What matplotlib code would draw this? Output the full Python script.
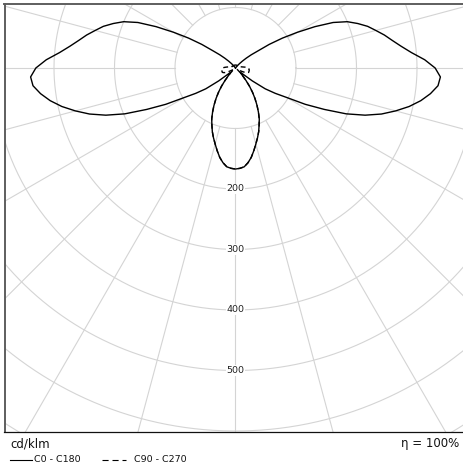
import matplotlib.pyplot as plt
from matplotlib.lines import Line2D
import numpy as np

# polar angle gamma (deg from nadir) and intensities in cd/klm
gamma = np.arange(0, 180.1, 2.5)

# C0 - C180 plane (symmetric, C180 mirrors C0)
i_c0 = [167, 166, 164, 158, 150, 140, 130, 121, 112, 102, 93, 82, 71, 60, 49, 38,
        27, 18, 12, 11, 14, 35, 60, 78, 97, 130, 162, 198, 228, 253, 274, 294,
        311, 325, 336, 339, 330, 313, 292, 276, 263, 252, 240, 229, 215, 200, 178, 148,
        118, 92, 68, 46, 34, 24, 16, 10, 6, 3, 1, 0, 0, 0, 0, 0,
        0, 0, 0, 0, 0, 0, 0, 0, 0]

# C90 - C270 plane
i_c90 = [167, 166, 164, 158, 150, 140, 130, 121, 112, 102, 93, 82, 71, 60, 49, 38,
         27, 18, 12, 6, 4, 3, 4, 6, 9, 13, 17, 20, 22, 23, 23, 23,
         23, 23, 22, 22, 21, 19, 16, 13, 11, 9, 8, 7, 7, 6, 6, 6,
         6, 6, 5, 5, 5, 5, 5, 5, 5, 5, 5, 5, 5, 5, 5, 5,
         5, 5, 5, 5, 5, 5, 5, 5, 5]

ring_values = [100, 200, 300, 400, 500, 600, 700]
ring_labels = [200, 300, 400, 500]
unit_label = 'cd/klm'
efficiency = '\u03b7 = 100%'
legend_names = ['C0 - C180', 'C90 - C270']

W, H = 463, 466
fig = plt.figure(figsize=(W / 100, H / 100), dpi=100)
ax = fig.add_axes([4.5 / W, 34 / H, (W - 4.5) / W, (432 - 4.5) / H])

scale = 0.605  # px per cd/klm
cx, cy = 235.5, 68
ax.set_xlim(-(cx - 4.5) / scale, (W - cx) / scale)
ax.set_ylim(-(432 - cy) / scale, (cy - 4.5) / scale)

# grid: rings and spokes (spokes start at the first ring)
grid_col = '#d4d4d4'
t = np.linspace(0, 2 * np.pi, 721)
for r in ring_values:
    ax.plot(r * np.cos(t), r * np.sin(t), color=grid_col, lw=0.8, zorder=1)
for a in np.arange(0, 360, 15):
    a = np.radians(a)
    ax.plot([100 * np.cos(a), 1200 * np.cos(a)], [100 * np.sin(a), 1200 * np.sin(a)],
            color=grid_col, lw=0.8, zorder=1)

for r in ring_labels:
    ax.text(0, -r, str(r), ha='center', va='center', fontsize=6.8, color='#222222',
            bbox=dict(facecolor='white', edgecolor='none', pad=0.6), zorder=2)


def closed_curve(vals):
    g = np.radians(gamma)
    v = np.array(vals, dtype=float)
    # C180 side (left) from 180 down to 0, then C0 side (right) 0 up to 180
    x = np.concatenate([-(v * np.sin(g))[::-1], (v * np.sin(g))[1:]])
    y = np.concatenate([-(v * np.cos(g))[::-1], -(v * np.cos(g))[1:]])
    return x, y


x0, y0 = closed_curve(i_c0)
ax.plot(x0, y0, color='black', lw=1.0, zorder=3)
x9, y9 = closed_curve(i_c90)
ax.plot(x9, y9, color='black', lw=1.0, dashes=(3.5, 2.5), zorder=4)

ax.set_xticks([])
ax.set_yticks([])
for s in ['left', 'top']:
    ax.spines[s].set_color('#5e5e5e')
    ax.spines[s].set_linewidth(1.4)
ax.spines['bottom'].set_color('#111111')
ax.spines['bottom'].set_linewidth(0.9)
ax.spines['right'].set_visible(False)

# footer texts and legend
fig.text(10 / W, 1 - 444 / H, unit_label, fontsize=8.5, ha='left', va='center', color='#111111')
fig.text(459 / W, 1 - 444 / H, efficiency, fontsize=8.5, ha='right', va='center', color='#111111')
ly = 1 - 459.5 / H
fig.add_artist(Line2D([9.5 / W, 31.5 / W], [ly, ly], color='black', lw=0.8))
fig.text(34 / W, ly, legend_names[0], fontsize=6.8, ha='left', va='center', color='#111111')
fig.add_artist(Line2D([101.5 / W, 126 / W], [ly, ly], color='black', lw=0.8, dashes=(5.5, 3.5)))
fig.text(134 / W, ly, legend_names[1], fontsize=6.8, ha='left', va='center', color='#111111')

fig.savefig('out.png', dpi=100)
